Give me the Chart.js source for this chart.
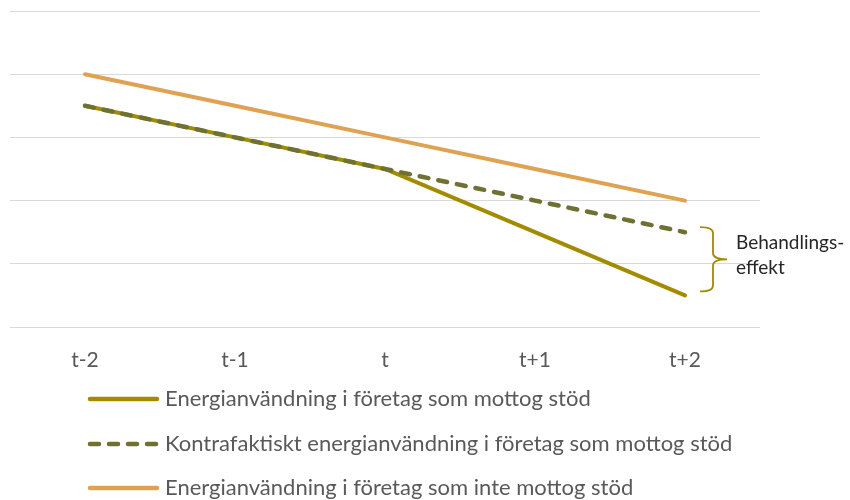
<!DOCTYPE html>
<html>
<head>
<meta charset="utf-8">
<script src="https://cdn.jsdelivr.net/npm/chart.js@4.4.0/dist/chart.umd.min.js"></script>
<style>
  html, body { margin: 0; padding: 0; background: #fff; }
  #wrap { width: 850px; height: 500px; position: relative; }
</style>
</head>
<body>
<div id="wrap"><canvas id="c"></canvas></div>
<script>
// categories and series
const periods = ['t-2', 't-1', 't', 't+1', 't+2'];
const supported = [3.5, 3.0, 2.5, 1.5, 0.5];
const counterfactual = [3.5, 3.0, 2.5, 2.0, 1.5];
const notSupported = [4.0, 3.5, 3.0, 2.5, 2.0];
const seriesNames = [
    'Energianvändning i företag som mottog stöd',
    'Kontrafaktiskt energianvändning i företag som mottog stöd',
    'Energianvändning i företag som inte mottog stöd'
];
const braceLabel = ['Behandlings-', 'effekt'];

const FONT = 'Lato, "Open Sans", sans-serif';
const GREY = '#595959';

// legend drawn under the axis, one row per series
const legendRows = {
    id: 'legendRows',
    afterDraw(chart) {
        const ctx = chart.ctx;
        const rowsY = [399, 444, 488];
        ctx.save();
        chart.data.datasets.forEach((ds, i) => {
            const y = rowsY[i];
            ctx.strokeStyle = ds.borderColor;
            ctx.lineWidth = 4.5;
            ctx.lineCap = 'round';
            ctx.setLineDash(ds.borderDash ? [9, 10] : []);
            ctx.beginPath();
            ctx.moveTo(90, y); ctx.lineTo(157, y);
            ctx.stroke();
            ctx.setLineDash([]);
            ctx.fillStyle = GREY;
            ctx.font = '22px ' + FONT;
            ctx.textBaseline = 'middle';
            ctx.fillText(ds.label, 165, y);
        });
        ctx.restore();
    }
};

// curly brace between counterfactual and actual at the last period
const braceMark = {
    id: 'braceMark',
    afterDatasetsDraw(chart) {
        const ctx = chart.ctx;
        const xs = chart.scales.x, ys = chart.scales.y;
        const last = periods.length - 1;
        const x0 = xs.getPixelForValue(last) + 15;
        const top = ys.getPixelForValue(counterfactual[last]) - 5;
        const bot = ys.getPixelForValue(supported[last]) - 4;
        const mid = (top + bot) / 2;
        const w = 13, r = 6;
        ctx.save();
        ctx.strokeStyle = '#A38B00';
        ctx.lineWidth = 1.8;
        ctx.beginPath();
        ctx.moveTo(x0, top);
        ctx.quadraticCurveTo(x0 + w, top, x0 + w, top + r);
        ctx.lineTo(x0 + w, mid - r);
        ctx.quadraticCurveTo(x0 + w, mid, x0 + w + 14, mid);
        ctx.quadraticCurveTo(x0 + w, mid, x0 + w, mid + r);
        ctx.lineTo(x0 + w, bot - r);
        ctx.quadraticCurveTo(x0 + w, bot, x0, bot);
        ctx.stroke();
        ctx.fillStyle = '#262626';
        ctx.font = '19px ' + FONT;
        ctx.textBaseline = 'middle';
        ctx.fillText(braceLabel[0], x0 + 36, mid - 16);
        ctx.fillText(braceLabel[1], x0 + 36, mid + 9);
        ctx.restore();
    }
};

new Chart(document.getElementById('c'), {
    type: 'line',
    data: {
        labels: periods,
        datasets: [
            { label: seriesNames[0], data: supported, borderColor: '#A38B00', borderWidth: 4,
              borderCapStyle: 'round', order: 2 },
            { label: seriesNames[1], data: counterfactual, borderColor: '#6F7133', borderWidth: 4.5,
              borderDash: [9, 10], borderCapStyle: 'round', order: 1 },
            { label: seriesNames[2], data: notSupported, borderColor: '#DFA253', borderWidth: 4,
              borderCapStyle: 'round', order: 3 }
        ]
    },
    options: {
        responsive: true, maintainAspectRatio: false, animation: false,
        elements: { point: { radius: 0 }, line: { tension: 0 } },
        layout: { padding: { left: 10, right: 90, top: 11, bottom: 0 } },
        plugins: { legend: { display: false }, tooltip: { enabled: false } },
        scales: {
            x: {
                offset: true,
                grid: { display: false },
                border: { display: false },
                ticks: { color: GREY, font: { family: FONT, size: 21 }, padding: 13 },
                afterFit: s => { s.height = 173; }
            },
            y: {
                min: 0, max: 5,
                ticks: { display: false, stepSize: 1 },
                grid: { color: '#D9D9D9', lineWidth: 1, drawTicks: false },
                border: { display: false },
                afterFit: s => { s.width = 0; }
            }
        }
    },
    plugins: [braceMark, legendRows]
});
</script>
</body>
</html>
